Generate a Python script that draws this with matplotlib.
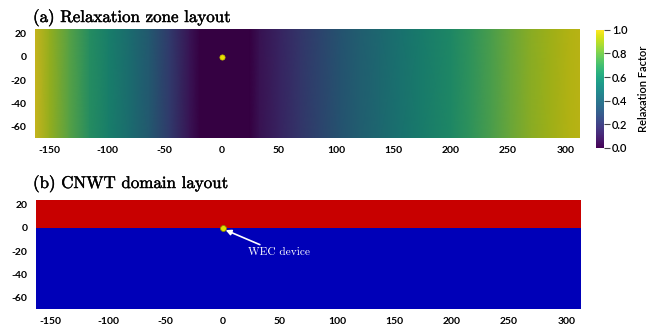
import numpy as np
import matplotlib
matplotlib.use("Agg")
import matplotlib.pyplot as plt
import matplotlib.patheffects as pe
from matplotlib.colors import Normalize, ListedColormap
from matplotlib.cm import ScalarMappable

# Domain extents (m)
x_min, x_max = -163, 313
y_min, y_max = -70, 24
free_surface = 0

# Relaxation factor sampled along the tank (constant over depth)
relax_x = [-163, -150, -133, -115, -98, -80, -63, -45, -28, -19,
           25, 33, 51, 68, 86, 103, 121, 138, 156, 173,
           200, 217, 235, 252, 270, 287, 304, 313]
relax_val = [1.0, 0.9, 0.78, 0.65, 0.57, 0.47, 0.37, 0.22, 0.07, 0.0,
             0.0, 0.06, 0.13, 0.2, 0.27, 0.34, 0.4, 0.45, 0.5, 0.55,
             0.62, 0.68, 0.75, 0.82, 0.88, 0.92, 0.96, 0.97]

# WEC device position
wec_x, wec_y = [0], [0]

x_ticks = [-150, -100, -50, 0, 50, 100, 150, 200, 250, 300]
y_ticks = [20, 0, -20, -40, -60]
cbar_ticks = [0.0, 0.2, 0.4, 0.6, 0.8, 1.0]

air_color = "#c80000"
water_color = "#0000b8"
shade = 0.78  # surface lighting in the render darkens the field

tick_font = dict(family="Lato", weight="bold", size=7.5)
title_font = dict(family="cmr10", size=12.2,
                  path_effects=[pe.withStroke(linewidth=0.3, foreground="black")])

fig = plt.figure(figsize=(6.6, 3.28), dpi=100)
ax1 = fig.add_axes([0.053, 0.579, 0.826, 0.3323])
ax2 = fig.add_axes([0.0545, 0.058, 0.826, 0.3323])
cax = fig.add_axes([0.903, 0.549, 0.0125, 0.36])

# (a) relaxation field, viridis darkened by the lighting
cmap = plt.get_cmap("viridis")
lit = cmap(np.linspace(0, 1, 256))
lit[:, :3] *= shade
lit_cmap = ListedColormap(lit)
norm = Normalize(0, 1)
field = np.array([relax_val, relax_val])
ax1.pcolormesh(relax_x, [y_min, y_max], field, shading="gouraud",
               cmap=lit_cmap, norm=norm)
ax1.scatter(wec_x, wec_y, s=14, color="#e8e000", edgecolor="#c8c000", lw=0.5, zorder=3)

# (b) CNWT domain
ax2.axhspan(free_surface, y_max, color=air_color, lw=0)
ax2.axhspan(y_min, free_surface, color=water_color, lw=0)
ax2.scatter(wec_x, wec_y, s=18, color="#e0e000", edgecolor="#8a8a00", lw=0.6, zorder=3)
ax2.annotate("WEC device", xy=(1.5, -1.5), xytext=(22, -21.5),
             color="white", fontfamily="cmr10", fontsize=8.2, va="center", ha="left",
             arrowprops=dict(arrowstyle="-|>", color="white", lw=1.2,
                             mutation_scale=8, shrinkA=1, shrinkB=1))

for ax in (ax1, ax2):
    ax.set_xlim(x_min, x_max)
    ax.set_ylim(y_min, y_max)
    ax.set_xticks(x_ticks)
    ax.set_yticks(y_ticks)
    ax.set_xticklabels([str(t) for t in x_ticks], fontdict=tick_font)
    ax.set_yticklabels([str(t) for t in y_ticks], fontdict=tick_font)
    ax.tick_params(length=0, pad=6)
    for sp in ax.spines.values():
        sp.set_visible(False)

fig.text(0.05, 1 - 22 / 328, "(a) Relaxation zone layout", va="baseline", **title_font)
fig.text(0.05, 1 - 188 / 328, "(b) CNWT domain layout", va="baseline", **title_font)

cb = fig.colorbar(ScalarMappable(norm=norm, cmap=cmap), cax=cax, ticks=cbar_ticks)
cb.outline.set_visible(False)
cb.ax.tick_params(length=4, width=0.8, color="#444444", pad=1.5)
cb.ax.set_yticklabels([f"{t:.1f}" for t in cbar_ticks],
                      fontdict=dict(family="Lato", weight="semibold", size=8))
cb.set_label("Relaxation Factor", fontdict=dict(family="Lato", weight="semibold", size=8),
             labelpad=8)

fig.savefig("out.png", dpi=100)
